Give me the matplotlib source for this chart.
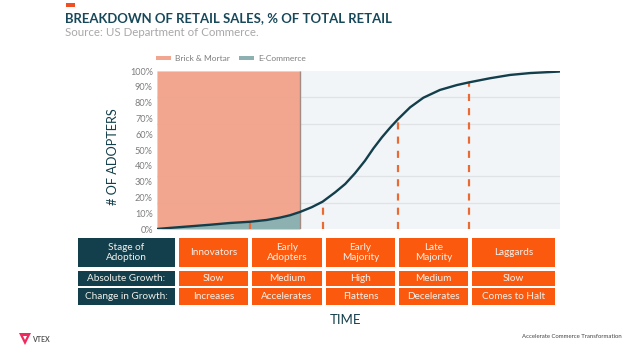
import numpy as np
import matplotlib
matplotlib.use('Agg')
import matplotlib.pyplot as plt
from matplotlib.patches import Rectangle, Polygon

# values
time_pct = [0, 3.2, 8.2, 13.2, 18.1, 23.1, 27.2, 30.5, 33, 35.5, 38.4, 41.1, 44.2, 46.7, 49.1,
            51.6, 53.7, 55.8, 57.8, 59.8, 62.8, 66.1, 70.2, 74.4, 77.4, 82.6, 87.6, 92.6, 99.5, 100]
adopters = [0, 0.7, 1.7, 2.7, 3.8, 4.6, 5.7, 7.2, 8.7, 10.8, 13.8, 17.3, 23.2, 28.5, 35.2,
            43.2, 51, 58, 64, 69.5, 77, 83.1, 88, 91.1, 92.8, 95.4, 97.5, 98.7, 99.6, 99.7]
n_split = 10  # points up to the brick/e-commerce boundary

stage_time = [23.1, 41.1, 59.8, 77.4]
stage_adopters = [4.6, 17.3, 69.5, 92.8]

y_ticks = list(range(0, 101, 10))
row_heads = ['Stage of\nAdoption', 'Absolute Growth:', 'Change in Growth:']
stages = ['Innovators', 'Early\nAdopters', 'Early\nMajority', 'Late\nMajority', 'Laggards']
abs_growth = ['Slow', 'Medium', 'High', 'Medium', 'Slow']
change_growth = ['Increases', 'Accelerates', 'Flattens', 'Decelerates', 'Comes to Halt']

DARK = '#123f4b'
ORANGE = '#fb5a0e'

plt.rcParams['font.family'] = ['Lato', 'DejaVu Sans']

W, H = 640, 361
fig = plt.figure(figsize=(W / 100, H / 100), dpi=100, facecolor='white')

# chart
ax = fig.add_axes([157 / W, 1 - 229 / H, 403 / W, 158 / H])
ax.set_facecolor('#f2f5f7')
ax.set_yticks([100 * i / 6 for i in range(1, 6)], minor=True)
ax.grid(axis='y', which='minor', color='#dfe3e5', lw=0.9, zorder=1)
ax.set_axisbelow(True)
ax.fill_between(time_pct[:n_split], adopters[:n_split], 100, color='#f2a38b', alpha=0.96, lw=0,
                label='Brick & Mortar', zorder=2)
ax.fill_between(time_pct[:n_split], 0, adopters[:n_split], color='#8db0b0', lw=0,
                label='E-Commerce', zorder=2)
ax.vlines(time_pct[n_split - 1], 0, 100, color='#a08c84', lw=1, zorder=3)
ax.vlines(stage_time, 0, stage_adopters, color='#ea6a33', lw=1.6,
          linestyles=(0, (3.2, 3.2)), zorder=4)
ax.plot(time_pct, adopters, color=DARK, lw=1.7, zorder=5)

ax.set_xlim(0, 100)
ax.set_ylim(0, 100)
ax.set_xticks([])
ax.set_yticks(y_ticks)
ax.set_yticklabels([f'{v}%' for v in y_ticks], fontsize=6.6, color='#7d7d7d')
ax.tick_params(axis='y', which='both', length=0, pad=3)
for s in ax.spines.values():
    s.set_visible(False)
ax.set_ylabel('# OF ADOPTERS', fontsize=9.2, color=DARK)
ax.yaxis.set_label_coords((119 - 157) / 403, (229 - 157) / 158)

ax.legend(loc='lower left', bbox_to_anchor=(-0.012, 1.03), ncol=2, frameon=False, fontsize=6.0,
          handlelength=1.8, handleheight=0.4, handletextpad=0.5, columnspacing=1.0,
          labelcolor='#7d7d7d', borderpad=0.3, borderaxespad=0.2)

# overlay in picture pixels for title, table and footer
ov = fig.add_axes([0, 0, 1, 1], zorder=10)
ov.set_xlim(0, W)
ov.set_ylim(H, 0)
ov.axis('off')

ov.add_patch(Rectangle((66, 3), 9, 4, color='#f04e23', lw=0))
ov.text(65, 18.5, 'BREAKDOWN OF RETAIL SALES, % OF TOTAL RETAIL', fontsize=9.45, fontweight='bold',
        color='#17485a', va='center', ha='left')
ov.text(65, 32, 'Source: US Department of Commerce.', fontsize=8.25, color='#a8a8a8',
        va='center', ha='left')

col_edges = [(78, 175), (179, 248), (252, 322), (326, 395), (399, 468), (472, 555)]
row_edges = [(238, 267), (271, 286), (288, 305)]
rows = [stages, abs_growth, change_growth]
for r, (y0, y1) in enumerate(row_edges):
    texts = [row_heads[r]] + rows[r]
    for c, (x0, x1) in enumerate(col_edges):
        ov.add_patch(Rectangle((x0, y0), x1 - x0, y1 - y0, color=DARK if c == 0 else ORANGE, lw=0))
        ov.text((x0 + x1) / 2, (y0 + y1) / 2, texts[c], color='#f4f1ec', fontsize=7.2,
                ha='center', va='center', linespacing=1.05)

ov.text(345, 320.5, 'TIME', fontsize=9.5, color=DARK, ha='center', va='center')

# footer
ov.add_patch(Polygon([(19, 333), (31, 333), (25, 345)], closed=True, color='#f0295f', lw=0))
ov.add_patch(Polygon([(23, 336), (27, 336), (25, 340)], closed=True, color='white', lw=0))
ov.text(32, 339, 'VTEX', fontsize=5, fontweight='bold', color='#555555', va='center', ha='left')
ov.text(622, 337, 'Accelerate Commerce Transformation', fontsize=4.3, color='#444444',
        va='center', ha='right')

fig.savefig('out.png', dpi=100)
